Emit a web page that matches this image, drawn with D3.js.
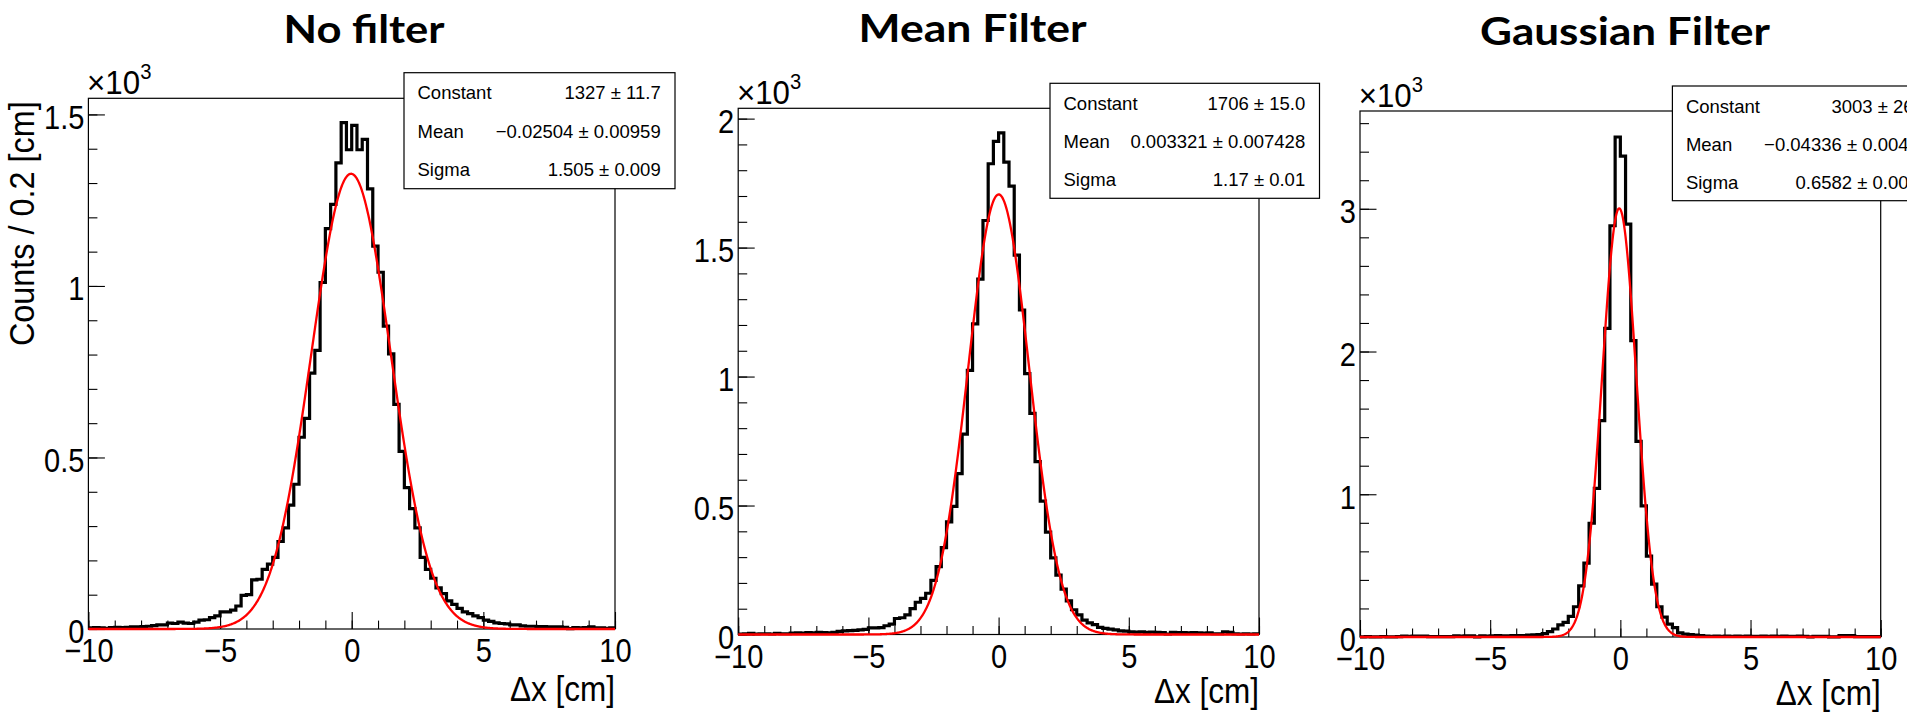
<!DOCTYPE html>
<html>
<head>
<meta charset="utf-8">
<script src="https://cdn.jsdelivr.net/npm/d3@7"></script>
<style>
  body { margin: 0; background: #fff; overflow: hidden; }
  svg { display: block; }
</style>
</head>
<body>
<svg id="chart" width="1907" height="713"></svg>
<script>
// ---------------- DATA ----------------
const panelTitles = ["No filter", "Mean Filter", "Gaussian Filter"];
const xMin = -10, xMax = 10, binWidth = 0.2;
const xAxisTitle = "\u0394x [cm]";
const yAxisTitle = "Counts / 0.2 [cm]";

const countsNoFilter = [
  3,4,3,2,4,5,4,5,6,6,
  7,8,10,12,12,17,16,20,17,16,
  20,26,27,33,38,50,50,55,67,98,
  100,143,145,174,189,209,255,295,361,422,
  559,614,746,812,1010,1167,1238,1359,1476,1397,
  1468,1397,1427,1283,1116,1040,883,802,655,518,
  412,351,295,209,174,148,120,103,82,72,
  60,50,45,38,33,26,22,18,16,15,
  12,12,9,8,8,7,7,6,6,6,
  5,1,4,3,4,6,3,3,2,3
];
const countsMeanFilter = [
  2,3,4,2,3,3,2,4,3,3,
  5,6,5,7,6,8,7,6,8,12,
  14,15,16,18,20,26,26,27,34,40,
  62,65,76,100,125,140,160,210,263,337,
  437,497,624,777,1024,1204,1378,1605,1825,1912,
  1945,1831,1738,1471,1258,1011,857,670,517,397,
  297,230,176,130,96,76,56,45,38,28,
  24,21,18,14,13,10,9,10,8,9,
  8,7,2,8,7,7,6,7,6,5,
  6,3,3,10,8,3,2,3,2,3
];
const countsGaussFilter = [
  1,2,1,1,2,1,1,2,6,5,
  6,7,6,2,2,3,2,2,8,7,
  8,8,1,8,7,8,9,8,8,9,
  10,10,14,15,16,24,38,56,85,102,
  144,212,358,517,797,1041,1516,2162,2881,3503,
  3369,2893,2077,1370,919,566,370,212,139,90,
  66,29,20,17,14,10,6,5,6,5,
  6,5,6,5,6,5,5,6,5,6,
  5,6,5,5,6,5,1,5,5,5,
  1,1,9,9,9,3,3,2,3,3
];

// Gaussian fit parameters (from the stat boxes)
const fitConstant = [1327, 1706, 3003];
const fitMean = [-0.02504, 0.003321, -0.04336];
const fitSigma = [1.505, 1.17, 0.6582];

const statLabels = ["Constant", "Mean", "Sigma"];
const statConstant = ["1327 \u00b1 11.7", "1706 \u00b1 15.0", "3003 \u00b1 26.1"];
const statMean = ["\u22120.02504 \u00b1 0.00959", "0.003321 \u00b1 0.007428", "\u22120.04336 \u00b1 0.00436"];
const statSigma = ["1.505 \u00b1 0.009", "1.17 \u00b1 0.01", "0.6582 \u00b1 0.0040"];

const yAxisMax = [1547, 2040, 3685];           // counts
const yMajorTicks = [[0, 0.5, 1, 1.5], [0, 0.5, 1, 1.5, 2], [0, 1, 2, 3]]; // x10^3
const yMinorStep = [100, 100, 200];
const xMajorTicks = [-10, -5, 0, 5, 10];
const xMinorTicks = d3.range(-10, 11, 1);

const allCounts = [countsNoFilter, countsMeanFilter, countsGaussFilter];

// ---------------- LAYOUT ----------------
const layout = [
  {left: 88.4, right: 615, top: 98.3, bottom: 629, titleX: 364, titleY: 43.3, titleW: 161,
   boxX: 404, boxY: 72.7, boxW: 271, boxH: 116, xTitleY: 701},
  {left: 738.2, right: 1259, top: 108.3, bottom: 634.5, titleX: 972.6, titleY: 41.7, titleW: 228,
   boxX: 1050, boxY: 83.3, boxW: 269.5, boxH: 115, xTitleY: 703},
  {left: 1360, right: 1880.7, top: 111, bottom: 637, titleX: 1625, titleY: 45, titleW: 290,
   boxX: 1672.4, boxY: 86, boxW: 271, boxH: 114.7, xTitleY: 704.6}
];

const FONT = "'Liberation Sans', Arial, Helvetica, sans-serif";
const svg = d3.select("#chart");

function narrow(sel, origin, k) {
  sel.style("transform-box", "fill-box")
     .style("transform-origin", origin)
     .style("transform", `scaleX(${k})`);
}

layout.forEach((L, p) => {
  const g = svg.append("g");
  const x = d3.scaleLinear().domain([xMin, xMax]).range([L.left, L.right]);
  const y = d3.scaleLinear().domain([0, yAxisMax[p]]).range([L.bottom, L.top]);

  // title
  g.append("text")
    .attr("x", L.titleX).attr("y", L.titleY)
    .attr("text-anchor", "middle")
    .attr("textLength", L.titleW).attr("lengthAdjust", "spacingAndGlyphs")
    .style("font-family", "Lato, 'Open Sans', sans-serif")
    .style("font-weight", 700)
    .style("font-size", "39px")
    .text(panelTitles[p]);

  // frame
  g.append("rect")
    .attr("x", L.left).attr("y", L.top)
    .attr("width", L.right - L.left).attr("height", L.bottom - L.top)
    .attr("fill", "none").attr("stroke", "#000").attr("stroke-width", 1.2);

  // y minor ticks
  const yMinor = d3.range(0, yAxisMax[p] + 1e-9, yMinorStep[p]);
  g.append("g").attr("transform", `translate(${L.left},0)`)
    .call(d3.axisLeft(y).tickValues(yMinor).tickSize(-9).tickFormat(""))
    .call(s => s.select(".domain").remove());

  // y major ticks
  g.append("g").attr("transform", `translate(${L.left},0)`)
    .call(d3.axisLeft(y).tickValues(yMajorTicks[p].map(v => v * 1000))
      .tickSize(-16.5).tickPadding(4)
      .tickFormat(d => d3.format("~g")(d / 1000)))
    .call(s => s.select(".domain").remove())
    .call(s => s.selectAll("text").attr("dy", "0.42em")
      .style("font-family", FONT).style("font-size", "33px").attr("fill", "#000")
      .call(t => narrow(t, "100% 50%", 0.88)));

  // x minor ticks
  g.append("g").attr("transform", `translate(0,${L.bottom})`)
    .call(d3.axisBottom(x).tickValues(xMinorTicks).tickSize(-8.4).tickFormat(""))
    .call(s => s.select(".domain").remove());

  // x major ticks
  g.append("g").attr("transform", `translate(0,${L.bottom})`)
    .call(d3.axisBottom(x).tickValues(xMajorTicks).tickSize(-17).tickPadding(10)
      .tickFormat(d => d3.format("")(d)))
    .call(s => s.select(".domain").remove())
    .call(s => s.selectAll("text")
      .style("font-family", FONT).style("font-size", "33px").attr("fill", "#000")
      .call(t => narrow(t, "50% 50%", 0.88)));

  g.selectAll(".tick line").attr("stroke", "#000").attr("stroke-width", 1.1);

  // histogram (step)
  const counts = allCounts[p];
  const pts = counts.map((c, i) => [xMin + i * binWidth, c]);
  pts.push([xMax, counts[counts.length - 1]]);
  g.append("path")
    .datum(pts)
    .attr("fill", "none").attr("stroke", "#000").attr("stroke-width", 3.2)
    .attr("stroke-linejoin", "miter")
    .attr("d", d3.line().x(d => x(d[0])).y(d => y(d[1])).curve(d3.curveStepAfter));

  // gaussian fit curve
  const C = fitConstant[p], m = fitMean[p], s = fitSigma[p];
  const fitPts = d3.range(xMin, xMax + 1e-9, 0.02).map(v => [v, C * Math.exp(-0.5 * ((v - m) / s) ** 2)]);
  g.append("path")
    .datum(fitPts)
    .attr("fill", "none").attr("stroke", "#ff0000").attr("stroke-width", 2.3)
    .attr("d", d3.line().x(d => x(d[0])).y(d => y(d[1])));

  // x10^3 multiplier
  const mult = g.append("text")
    .attr("x", L.left - 1.3).attr("y", L.top - 4)
    .style("font-family", FONT).style("font-size", "34px");
  mult.append("tspan").text("\u00d710");
  mult.append("tspan").attr("dy", -15).style("font-size", "22px").text("3");
  narrow(mult, "0% 50%", 0.92);

  // x axis title
  const xt = g.append("text")
    .attr("x", L.right).attr("y", L.xTitleY)
    .attr("text-anchor", "end")
    .style("font-family", FONT).style("font-size", "35px")
    .text(xAxisTitle);
  narrow(xt, "100% 50%", 0.9);

  // y axis title (first panel only)
  if (p === 0) {
    g.append("text")
      .attr("transform", `translate(34,${L.top + 3}) rotate(-90) scale(0.9,1)`)
      .attr("text-anchor", "end")
      .style("font-family", FONT).style("font-size", "36px")
      .text(yAxisTitle);
  }

  // stats box
  const box = g.append("g").attr("transform", `translate(${L.boxX},${L.boxY})`);
  box.append("rect")
    .attr("width", L.boxW).attr("height", L.boxH)
    .attr("fill", "#fff").attr("stroke", "#000").attr("stroke-width", 1.2);
  const vals = [statConstant[p], statMean[p], statSigma[p]];
  const rowY = [26.6, 65, 103];
  statLabels.forEach((lab, i) => {
    box.append("text").attr("x", 13.5).attr("y", rowY[i])
      .style("font-family", FONT).style("font-size", "18.5px").text(lab);
    box.append("text").attr("x", L.boxW - 14.3).attr("y", rowY[i])
      .attr("text-anchor", "end")
      .style("font-family", FONT).style("font-size", "18.5px").text(vals[i]);
  });
});
</script>
</body>
</html>
